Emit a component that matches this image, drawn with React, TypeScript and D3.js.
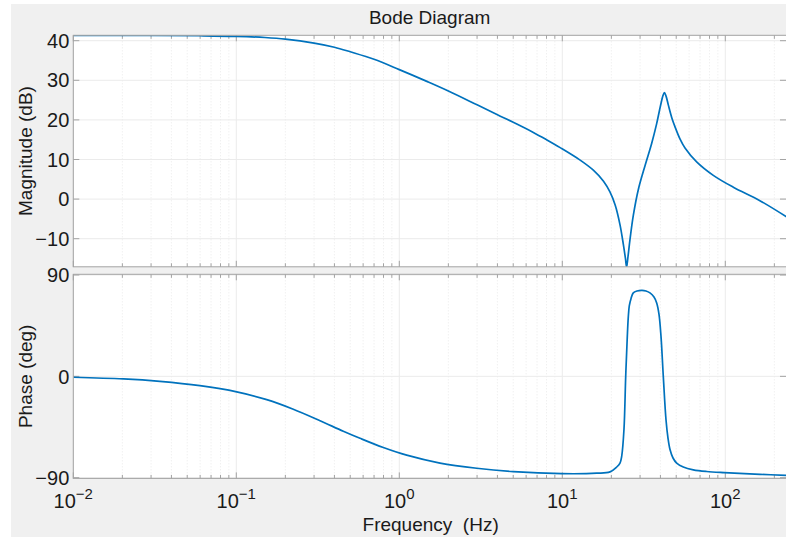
import * as d3 from "d3";

// magnitude (Hz, dB)
const magFreq = [0.01, 0.03, 0.06, 0.1, 0.15, 0.2, 0.3, 0.4, 0.5, 0.7, 1.0, 1.5, 2.0, 3.0, 4.0, 5.0, 6.6, 8.0, 9.7, 12.8, 15.5, 17.9, 19.6, 21.1, 22.6, 23.7, 24.4, 24.8, 25.3, 26.0, 27.3, 29.3, 32.2, 35.3, 37.9, 40.0, 41.5, 42.3, 43.3, 44.7, 47.0, 49.1, 52.7, 56.6, 66.7, 84.4, 112, 163, 240];
const magDb = [41.35, 41.33, 41.25, 41.1, 40.8, 40.4, 39.4, 38.35, 37.2, 35.3, 32.7, 29.6, 27.3, 23.8, 21.3, 19.4, 16.9, 15.0, 13.0, 9.9, 7.3, 4.5, 1.8, -1.5, -6.5, -11.5, -15.0, -17.2, -14.5, -10.3, -4.0, 2.5, 8.5, 14.0, 19.0, 23.5, 26.2, 26.9, 26.0, 23.8, 20.5, 18.3, 15.2, 12.9, 9.4, 6.0, 3.0, -0.4, -4.6];

// phase (Hz, deg)
const phFreq = [0.01, 0.0203, 0.034, 0.0598, 0.1006, 0.1537, 0.2237, 0.3264, 0.4534, 0.574, 0.798, 1.11, 1.777, 2.984, 5.005, 9.92, 16.26, 19.62, 21.57, 22.59, 23.14, 23.9, 24.49, 25.05, 25.41, 25.76, 26.39, 27.26, 28.73, 30.83, 32.62, 34.51, 36.52, 37.94, 39.2, 40.32, 41.65, 43.27, 44.52, 45.79, 47.77, 50.32, 55.24, 63.65, 76.88, 98.6, 163.3, 240];
const phDeg = [-0.8, -2.3, -4.5, -8.3, -13.8, -20.7, -29.2, -39.4, -48.7, -55.0, -63.2, -70.0, -77.0, -81.6, -84.6, -86.4, -86.0, -84.8, -80.5, -77, -71, -47, 0, 35.5, 53, 62.5, 69, 74.1, 75.8, 76.4, 75.8, 74.1, 70.5, 65.2, 55, 35.5, 0, -38.5, -55, -65, -72.5, -77, -80.5, -83, -84.5, -85.5, -87, -88];

const magTicks = [-10, 0, 10, 20, 30, 40];
const phTicks = [-90, 0, 90];
const decades = [-2, -1, 0, 1, 2];

const W = 786;
const H = 537;
const left = 73.3;
const font = "'Liberation Sans', Arial, Helvetica, sans-serif";
const axisCol = "#a3a3a3";
const lineCol = "#0072BD";

const x = d3.scaleLog().domain([0.01, 240]).range([left, left + 163 * Math.log10(24000)]);
const right = W + 1;

const magTop = 35.3;
const magBot = 266.8;
const yMag = d3.scaleLinear().domain([-17.2, 41.4]).range([267.2, 35.15]);

const phTop = 274.3;
const phBot = 478.4;
const yPh = d3.scaleLinear().domain([-90, 90]).range([477.7, 275]);

const minor: number[] = [];
decades.forEach((k) => {
  for (let m = 2; m <= 9; m++) {
    const f = m * Math.pow(10, k);
    if (f <= 240) minor.push(f);
  }
});
const major = decades.map((k) => Math.pow(10, k));

const supFor = (k: number) => (k < 0 ? "\u2212" + Math.abs(k) : String(k));
const fmt = (v: number) => (v < 0 ? "\u2212" + Math.abs(v) : String(v));

type PanelProps = {
  id: string;
  top: number;
  bot: number;
  y: d3.ScaleLinear<number, number>;
  ticks: number[];
  freq: number[];
  vals: number[];
};

const Panel = ({ id, top, bot, y, ticks, freq, vals }: PanelProps) => {
  const pts = freq.map((f, i) => [f, vals[i]] as [number, number]);
  const path = d3
    .line<[number, number]>()
    .x((d) => x(d[0]))
    .y((d) => y(d[1]))
    .curve(d3.curveCatmullRom.alpha(0.5))(pts);

  return (
    <g>
      <clipPath id={id}>
        <rect x={left} y={top} width={right - left} height={bot - top} />
      </clipPath>
      <rect x={left} y={top} width={right - left} height={bot - top} fill="#ffffff" />
      {/* grid */}
      {minor.map((f) => (
        <line key={"mg" + f} x1={x(f)} x2={x(f)} y1={top} y2={bot} stroke="#e4e4e4" strokeWidth={0.8} strokeDasharray="1,2" />
      ))}
      {major.map((f) => (
        <line key={"Mg" + f} x1={x(f)} x2={x(f)} y1={top} y2={bot} stroke="#ebebeb" strokeWidth={1} />
      ))}
      {ticks.map((t) => (
        <line key={"yg" + t} x1={left} x2={right} y1={y(t)} y2={y(t)} stroke="#ebebeb" strokeWidth={1} />
      ))}
      {/* ticks */}
      {minor.map((f) => (
        <g key={"mt" + f} stroke={axisCol} strokeWidth={1}>
          <line x1={x(f)} x2={x(f)} y1={top} y2={top + 3.5} />
          <line x1={x(f)} x2={x(f)} y1={bot} y2={bot - 3.5} />
        </g>
      ))}
      {major.map((f) => (
        <g key={"Mt" + f} stroke={axisCol} strokeWidth={1}>
          <line x1={x(f)} x2={x(f)} y1={top} y2={top + 6} />
          <line x1={x(f)} x2={x(f)} y1={bot} y2={bot - 6} />
        </g>
      ))}
      {ticks.map((t) => (
        <g key={"yt" + t} stroke={axisCol} strokeWidth={1}>
          <line x1={left} x2={left + 6} y1={y(t)} y2={y(t)} />
          <line x1={right - 1} x2={right - 7} y1={y(t)} y2={y(t)} />
        </g>
      ))}
      <path d={path ?? ""} fill="none" stroke={lineCol} strokeWidth={1.7} clipPath={`url(#${id})`} />
      <rect x={left} y={top} width={right - left} height={bot - top} fill="none" stroke={axisCol} strokeWidth={1} />
      {ticks.map((t) => (
        <text key={"yl" + t} x={left - 4} y={y(t)} dy="0.36em" textAnchor="end" fontSize={20} fill="#1a1a1a">
          {fmt(t)}
        </text>
      ))}
    </g>
  );
};

export default function App() {
  return (
    <svg width={W} height={H} style={{ display: "block", position: "absolute", left: 0, top: 0 }} fontFamily={font}>
      <rect x={11} y={4} width={W - 11} height={H - 4} fill="#f0f0f0" />
      <text x={(left + W) / 2} y={24} textAnchor="middle" fontSize={19} fill="#1a1a1a">
        Bode Diagram
      </text>
      <Panel id="clipMag" top={magTop} bot={magBot} y={yMag} ticks={magTicks} freq={magFreq} vals={magDb} />
      <Panel id="clipPh" top={phTop} bot={phBot} y={yPh} ticks={phTicks} freq={phFreq} vals={phDeg} />
      {decades.map((k) => (
        <text key={"xl" + k} x={x(Math.pow(10, k))} y={508} textAnchor="middle" fontSize={20} fill="#1a1a1a">
          10
          <tspan dy={-9} fontSize={15}>
            {supFor(k)}
          </tspan>
        </text>
      ))}
      <text x={(left + W) / 2 + 1} y={530.5} textAnchor="middle" fontSize={19} fill="#1a1a1a" xmlSpace="preserve">
        {"Frequency  (Hz)"}
      </text>
      <text transform={`translate(32,${(magTop + magBot) / 2}) rotate(-90)`} textAnchor="middle" fontSize={19} fill="#1a1a1a">
        Magnitude (dB)
      </text>
      <text transform={`translate(32,${(phTop + phBot) / 2}) rotate(-90)`} textAnchor="middle" fontSize={19} fill="#1a1a1a">
        Phase (deg)
      </text>
    </svg>
  );
}
